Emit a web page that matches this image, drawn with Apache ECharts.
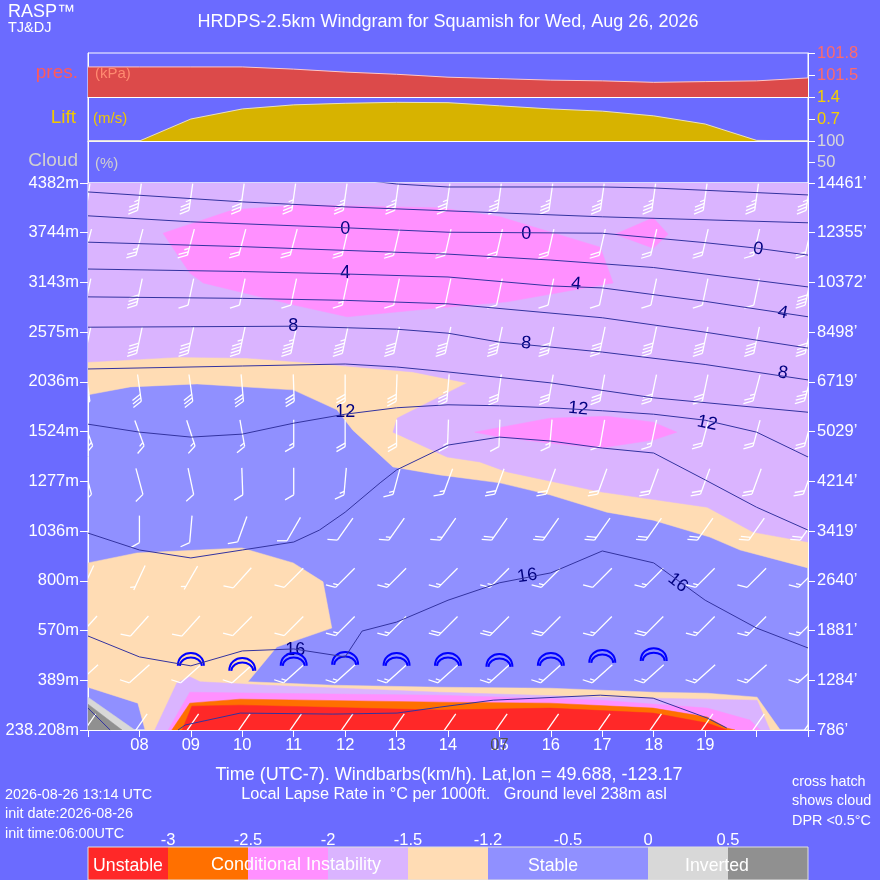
<!DOCTYPE html>
<html><head><meta charset="utf-8">
<script src="https://cdn.jsdelivr.net/npm/echarts@6/dist/echarts.min.js"></script>
<style>html,body{margin:0;padding:0;background:#6b6bff;}#c{width:880px;height:880px;}</style>
</head><body><div id="c"></div><script>
// ---------- DATA ----------
const hours = [7,8,9,10,11,12,13,14,15,16,17,18,19,20,21];
const hourLabels = {8:'08',9:'09',10:'10',11:'11',12:'12',13:'13',14:'14',15:'15',16:'16',17:'17',18:'18',19:'19'};
const heightLabels = ['238.208m','389m','570m','800m','1036m','1277m','1524m','2036m','2575m','3143m','3744m','4382m'];
const feetLabels = ['786\u2019','1284\u2019','1881\u2019','2640\u2019','3419\u2019','4214\u2019','5029\u2019','6719\u2019','8498\u2019','10372\u2019','12355\u2019','14461\u2019'];
const presValues = [101.61,101.61,101.61,101.61,101.58,101.54,101.51,101.47,101.45,101.43,101.42,101.40,101.41,101.42,101.46];
const liftValues = [0,0,0.70,1.02,1.15,1.20,1.23,1.22,1.12,1.02,0.95,0.80,0.54,0.02,0];

// lapse-rate regions: [hour, level]
const peachUpper = [[7,11],[21,11],[21,3.26],[19.68,3.62],[19.09,3.88],[17.99,4.22],[17.09,4.38],[15.98,4.73],[15.01,4.97],[13.84,5.13],[12.93,5.29],[12.15,6.03],[11.84,6.44],[10.99,6.84],[9.12,6.96],[7.82,6.90],[7,6.74]];
const lavUpper = [[7,11],[21,11],[21,3.78],[19.93,3.98],[19.04,4.48],[16.96,4.79],[15.15,5.19],[14.62,5.39],[13.98,5.49],[12.93,5.99],[13.01,6.27],[14.37,6.98],[13.32,7.20],[11.37,7.38],[10.09,7.48],[8.79,7.50],[7,7.40]];
const pinkUpper = [[8.46,9.99],[9.82,10.46],[11.12,10.56],[13.84,10.50],[15.01,10.32],[16.96,9.71],[17.21,8.99],[15.15,8.61],[13.84,8.49],[12.04,8.31],[10.99,8.55],[9.24,8.99],[8.98,9.19]];
const pinkDiamond = [[17.25,9.97],[17.99,10.30],[18.28,9.97],[17.99,9.69]];
const pinkMid = [[14.52,5.99],[15.98,6.27],[17.09,6.31],[17.99,6.19],[18.45,5.99],[17.99,5.83],[16.96,5.67],[15.98,5.77],[15.01,5.89]];
const peachLower = [[7,3.36],[7.95,3.56],[9.99,3.66],[10.99,3.36],[11.57,2.98],[11.74,2.05],[10.67,1.67],[10.11,0.97],[11.76,0.90],[13.84,0.86],[15.98,0.84],[17.99,0.76],[19.04,0.74],[20.01,0.66],[20.46,0],[8.11,0],[7.97,0.54],[7,0.86]];
const lavDome = [[8.30,0],[8.73,0.95],[8.98,1.07],[9.18,0.97],[10.48,0.90],[13.84,0.76],[16.96,0.66],[19.04,0.62],[20.01,0.60],[20.26,0]];
const pinkDome = [[8.56,0],[8.98,0.76],[10.48,0.74],[13.84,0.70],[16.96,0.60],[19.04,0.44],[19.87,0.20],[20.07,0]];
const orangeDome = [[8.63,0],[8.98,0.54],[9.96,0.62],[13.84,0.56],[15.98,0.54],[17.99,0.44],[19.04,0.26],[19.42,0.04],[19.58,0]];
const redDome = [[8.83,0],[9.02,0.48],[9.96,0.50],[13.84,0.40],[15.98,0.44],[17.99,0.34],[19.04,0.14],[19.42,0]];
const greyLight = [[7,0.66],[7.91,0],[7,0]];
const greyDark = [[7,0.52],[7.66,0],[7,0]];

// isotherms (deg C): [hour, level]
const isoM4 = [[12,11.1],[13,10.98],[14,10.92],[17,10.92],[18,10.90],[21,10.76]];
const isoM2 = [[7,10.82],[10,10.62],[12,10.52],[14,10.44],[17,10.32],[21,10.20]];
const iso0 = [[7,10.34],[9,10.22],[12,10.10],[14,10.01],[17,9.99],[19,9.80],[20,9.69],[21,9.55]];
const iso2 = [[7,9.81],[10,9.72],[14,9.57],[16,9.45],[18,9.30],[21,8.91]];
const iso4 = [[7,9.27],[10,9.22],[12,9.17],[14,9.11],[16,8.93],[17,8.89],[19,8.62],[21,8.31]];
const iso6 = [[7,8.71],[10,8.68],[12,8.64],[14,8.57],[17,8.29],[19,8.00],[21,7.68]];
const iso8 = [[7,8.10],[9,8.11],[11,8.12],[13,8.06],[14,7.98],[15,7.80],[17,7.60],[19,7.35],[21,7.04]];
const iso10 = [[7,7.26],[10,7.32],[12,7.36],[13,7.30],[14,7.20],[16,6.98],[18,6.68],[21,6.39]];
const iso12 = [[7,6.15],[8,5.99],[9,5.89],[10,5.95],[11,6.17],[12,6.35],[13,6.48],[14,6.54],[15,6.52],[16,6.48],[17,6.42],[18,6.35],[19,6.23],[20,5.99],[21,5.49]];
const iso14 = [[7,3.96],[8,3.62],[9,3.46],[10,3.62],[11,3.78],[11.5,4.02],[12,4.38],[12.68,4.97],[13,5.23],[14,5.73],[15,5.89],[16,5.81],[17,5.67],[18,5.57],[19,5.03],[20,4.48],[21,4.02]];
const iso16 = [[7,1.89],[8,1.47],[9,1.29],[10,1.59],[11,1.63],[12,1.47],[12.33,1.99],[13,2.17],[14,2.61],[15,2.96],[16,3.16],[17,3.60],[18,3.36],[19,2.61],[20,2.05],[21,1.65]];
const iso18 = [[8.75,0],[8.89,0.10],[9.96,0.34],[11.76,0.32],[13.01,0.34],[13.84,0.46],[14.88,0.60],[16.96,0.70],[17.99,0.64],[19.04,0.24],[19.42,0.04]];
const iso20 = [[7,0.44],[7.43,0]];

const contourLabelPos = [[12.0,10.08],[15.52,9.98],[20.03,9.67],[12.0,9.19],[16.49,8.97],[20.51,8.39],[10.99,8.12],[15.52,7.78],[20.51,7.18],[12.0,6.39],[16.53,6.46],[19.04,6.17],[15.54,3.10],[18.47,2.96],[11.03,1.61]];
const contourLabelText = ['0','0','0','4','4','4','8','8','8','12','12','12','16','16','16'];
const contourLabelRot = [0,0,8,0,5,12,0,5,10,0,5,12,-8,38,0];

// wind barbs
const barbRowLevels = [0.1,1.13,2.09,3.06,4.04,5.0,5.97,6.88,7.84,8.81,9.81,10.72];
const barbDirs = [
 [215,215,215,215,215,215,215,215,215,215,215,215,215,215,215],
 [228,228,228,228,228,228,228,228,228,228,228,228,228,228,228],
 [222,222,222,225,225,225,225,225,225,225,225,225,225,225,225],
 [205,205,210,222,225,225,225,225,225,225,225,225,225,225,225],
 [180,180,185,200,210,215,215,215,215,215,215,215,215,215,215],
 [165,165,168,178,180,185,195,200,200,200,200,200,200,200,200],
 [160,160,162,170,180,180,180,182,182,185,190,192,195,195,195],
 [172,172,172,175,178,180,182,185,188,190,190,192,192,195,195],
 [192,192,192,192,192,192,192,192,192,192,192,192,192,192,192],
 [192,192,192,192,192,192,192,192,192,192,192,192,192,192,192],
 [195,195,195,195,195,193,193,193,193,193,193,193,193,193,193],
 [188,188,188,188,188,188,188,188,188,188,188,188,188,188,188]
];
const barbSpeeds = [
 [10,10,10,10,10,10,10,10,10,10,10,10,10,10,10],
 [10,10,10,10,15,15,15,15,15,15,15,15,15,15,15],
 [10,10,10,10,10,15,15,20,20,20,15,20,15,15,15],
 [5,5,5,10,10,15,15,15,15,15,10,15,15,10,15],
 [10,10,10,10,10,10,15,15,20,20,20,20,20,20,20],
 [10,10,10,10,10,15,15,15,20,20,20,20,20,20,20],
 [15,15,15,15,15,20,20,15,10,15,10,15,20,20,20],
 [30,30,30,30,30,30,30,35,30,30,30,30,30,25,35],
 [40,40,40,45,45,45,40,40,40,40,40,40,40,40,40],
 [20,40,10,10,10,15,10,10,10,10,10,10,10,10,40],
 [25,25,25,20,20,20,20,20,20,20,20,20,20,15,20],
 [35,35,35,35,35,35,35,35,35,35,35,35,35,35,35]
];
const gliderHours = [9,10,11,12,13,14,15,16,17,18];
const gliderLevels = [1.29,1.19,1.29,1.31,1.29,1.29,1.27,1.29,1.35,1.39];

const legendBreaks = ['-3','-2.5','-2','-1.5','-1.2','-0.5','0','0.5'];
const legendColors = ['#ff2828','#ff7000','#ff90ff','#dab4ff','#ffdcb4','#9090ff','#9090ff','#d8d8d8','#909090'];

// ---------- STYLE ----------
const C = {red:'#ff2828',orange:'#ff7000',pink:'#ff90ff',lav:'#dab4ff',peach:'#ffdcb4',blue:'#9090ff',lgrey:'#d8d8d8',dgrey:'#909090'};
const regions = [
 {pts:peachUpper,color:C.peach},{pts:lavUpper,color:C.lav},{pts:pinkUpper,color:C.pink},{pts:pinkDiamond,color:C.pink},{pts:pinkMid,color:C.pink},
 {pts:peachLower,color:C.peach},{pts:lavDome,color:C.lav},{pts:pinkDome,color:C.pink},{pts:orangeDome,color:C.orange},{pts:redDome,color:C.red},
 {pts:greyLight,color:C.lgrey},{pts:greyDark,color:C.dgrey}
];
const isotherms = [isoM4,isoM2,iso0,iso2,iso4,iso6,iso8,iso10,iso12,iso14,iso16,iso18,iso20];
const FONT = '"Liberation Sans", Arial, sans-serif';
const W = '#ffffff';
const AX = 16.5;

const barbData = [];
barbRowLevels.forEach((lv,r)=>hours.forEach((h,i)=>barbData.push([h,lv,barbDirs[r][i],barbSpeeds[r][i]])));

function lineX(gi,pos){return {type:'value',gridIndex:gi,position:pos,min:7,max:21,interval:1,axisLine:{show:true,lineStyle:{color:W,width:1}},axisTick:{show:false},axisLabel:{show:false},splitLine:{show:false}};}
function lineY(gi,pos){return {type:'value',gridIndex:gi,position:pos,min:0,max:1,axisLine:{show:true,lineStyle:{color:W,width:1}},axisTick:{show:false},axisLabel:{show:false},splitLine:{show:false}};}
function rightY(gi,min,max,iv,color,fmt){return {type:'value',gridIndex:gi,position:'right',min,max,interval:iv,
 axisLine:{show:true,lineStyle:{color:W,width:1}},axisTick:{show:true,length:7,lineStyle:{color:W}},
 axisLabel:{show:true,color,fontSize:AX,fontFamily:FONT,margin:9,formatter:fmt},splitLine:{show:false}};}

const gridBase = {left:88,right:72,show:true,borderColor:W,borderWidth:1,outerBoundsMode:'none'};
const option = {
 animation:false,
 backgroundColor:'#6b6bff',
 grid:[
  Object.assign({},gridBase,{top:53,height:44,backgroundColor:'transparent'}),
  Object.assign({},gridBase,{top:97,height:44,backgroundColor:'transparent'}),
  Object.assign({},gridBase,{top:141,height:42,backgroundColor:'transparent'}),
  Object.assign({},gridBase,{top:183,height:547,backgroundColor:C.blue})
 ],
 xAxis:[
  Object.assign(lineX(0,'top'),{axisTick:{show:true,length:9,lineStyle:{color:W}}}),
  lineX(0,'bottom'), lineX(1,'bottom'), lineX(2,'bottom'),
  Object.assign(lineX(3,'bottom'),{axisTick:{show:true,length:7,lineStyle:{color:W}},
   axisLabel:{show:true,color:W,fontSize:AX,fontFamily:FONT,margin:7,formatter:v=>hourLabels[v]||''}}),
  lineX(3,'top')
 ],
 yAxis:[
  rightY(0,101.2,101.8,0.3,'#ff6a6a',v=>Math.abs(v-101.2)<0.01?'':v.toFixed(1)),
  lineY(0,'left'),
  rightY(1,0,1.4,0.7,'#f5d000',v=>v<0.01?'':v.toFixed(1)),
  lineY(1,'left'),
  rightY(2,0,100,50,'#d8d8d8',v=>v<1?'':String(v)),
  lineY(2,'left'),
  {type:'value',gridIndex:3,position:'left',min:0,max:11,interval:1,axisLine:{show:true,lineStyle:{color:W}},
   axisTick:{show:true,length:8,lineStyle:{color:W}},axisLabel:{color:W,fontSize:AX,fontFamily:FONT,margin:9,formatter:v=>heightLabels[Math.round(v)]},splitLine:{show:false}},
  {type:'value',gridIndex:3,position:'right',min:0,max:11,interval:1,axisLine:{show:true,lineStyle:{color:W}},
   axisTick:{show:true,length:7,lineStyle:{color:W}},axisLabel:{color:W,fontSize:AX,fontFamily:FONT,margin:9,formatter:v=>feetLabels[Math.round(v)]},splitLine:{show:false}}
 ],
 series:[]
};

option.series.push({type:'line',xAxisIndex:0,yAxisIndex:0,data:hours.map((h,i)=>[h,presValues[i]]),showSymbol:false,silent:true,
 lineStyle:{color:'#ffc8c8',width:1},areaStyle:{color:'#dc4a4a',opacity:1,origin:'start'}});
option.series.push({type:'line',xAxisIndex:2,yAxisIndex:2,data:hours.map((h,i)=>[h,liftValues[i]]),showSymbol:false,silent:true,
 lineStyle:{color:'#e8e0c0',width:1},areaStyle:{color:'#d7b300',opacity:1,origin:'start'}});

option.series.push({type:'custom',xAxisIndex:4,yAxisIndex:6,silent:true,clip:true,
 data:regions.map((r,i)=>[r.pts[0][0],r.pts[0][1],i]),
 renderItem:function(params,api){
  const r = regions[params.dataIndex];
  return {type:'polygon',shape:{points:r.pts.map(p=>api.coord(p))},style:{fill:r.color,stroke:r.color,lineWidth:0.5}};
 }});

isotherms.forEach(d=>option.series.push({type:'line',xAxisIndex:4,yAxisIndex:6,data:d,showSymbol:false,silent:true,clip:true,
 lineStyle:{color:'#3333a0',width:1}}));

option.series.push({type:'custom',xAxisIndex:4,yAxisIndex:6,silent:true,clip:true,data:barbData,
 renderItem:function(params,api){
  const c = api.coord([api.value(0),api.value(1)]);
  const th = api.value(2)*Math.PI/180, spd = api.value(3);
  const dx = Math.sin(th), dy = -Math.cos(th), L = 27;
  const x1 = c[0]+dx*L/2, y1 = c[1]+dy*L/2;
  const ch = [{type:'line',shape:{x1:c[0]-dx*L/2,y1:c[1]-dy*L/2,x2:x1,y2:y1},style:{stroke:W,lineWidth:1.3}}];
  const rx = -dy, ry = dx, a = 60*Math.PI/180;
  const fx = Math.cos(a)*dx+Math.sin(a)*rx, fy = Math.cos(a)*dy+Math.sin(a)*ry;
  const n = Math.round(spd/5), full = Math.floor(n/2), half = n%2;
  let pos = 0;
  for(let k=0;k<full;k++){const bx=x1-dx*pos,by=y1-dy*pos;ch.push({type:'line',shape:{x1:bx,y1:by,x2:bx+fx*10,y2:by+fy*10},style:{stroke:W,lineWidth:1.3}});pos+=3.5;}
  if(half){if(full===0)pos=3.5;const bx=x1-dx*pos,by=y1-dy*pos;ch.push({type:'line',shape:{x1:bx,y1:by,x2:bx+fx*5,y2:by+fy*5},style:{stroke:W,lineWidth:1.3}});}
  const cs = params.coordSys;
  return {type:'group',children:ch,clipPath:{type:'rect',shape:{x:cs.x,y:cs.y,width:cs.width,height:cs.height}}};
 }});

option.series.push({type:'custom',xAxisIndex:4,yAxisIndex:6,silent:true,data:contourLabelPos,
 renderItem:function(params,api){
  const c = api.coord([api.value(0),api.value(1)]);
  return {type:'text',x:c[0],y:c[1],rotation:-contourLabelRot[params.dataIndex]*Math.PI/180,
   style:{text:contourLabelText[params.dataIndex],fill:'#000080',fontSize:18,fontFamily:FONT,align:'center',verticalAlign:'middle'}};
 }});

option.series.push({type:'custom',xAxisIndex:4,yAxisIndex:6,silent:true,data:gliderHours.map((h,i)=>[h,gliderLevels[i]]),
 renderItem:function(params,api){
  const c = api.coord([api.value(0),api.value(1)]);
  const cx=c[0], by=c[1], st={stroke:'#0000ff',lineWidth:2,fill:null};
  return {type:'group',children:[
   {type:'bezierCurve',shape:{x1:cx-13,y1:by,cpx1:cx-13,cpy1:by-17,cpx2:cx+13,cpy2:by-17,x2:cx+13,y2:by},style:st},
   {type:'bezierCurve',shape:{x1:cx-11,y1:by,cpx1:cx-10,cpy1:by-11,cpx2:cx+10,cpy2:by-11,x2:cx+11,y2:by},style:st}
  ]};
 }});

// ---------- TEXT & LEGEND ----------
function txt(text,x,y,size,fill,align,extra){return Object.assign({type:'text',x,y,silent:true,z:100,style:{text,fill:fill||W,fontSize:size,fontFamily:FONT,align:align||'left',verticalAlign:'middle'}},extra||{});}
const g = [
 txt('RASP\u2122',8,12,18,W),
 txt('TJ&DJ',8,28,14.5,W),
 txt('HRDPS-2.5km Windgram for Squamish for Wed, Aug 26, 2026',448,22,18,W,'center'),
 txt('pres.',78,73,19,'#ff5a5a','right'),
 txt('(kPa)',95,74,15,'#ff8a70'),
 txt('Lift',76,118,19,'#f0c800','right'),
 txt('(m/s)',93,119,15,'#f0c800'),
 txt('Cloud',78,161,19,'#d0d0d0','right'),
 txt('(%)',95,164,15,'#d0d0d0'),
 txt('Time (UTC-7). Windbarbs(km/h). Lat,lon = 49.688, -123.17',449,775,18,W,'center'),
 txt('Local Lapse Rate in \u00b0C per 1000ft.   Ground level 238m asl',454,795,16.3,W,'center'),
 txt('2026-08-26 13:14 UTC',5,795,14.4,W),
 txt('init date:2026-08-26',5,814,14.4,W),
 txt('init time:06:00UTC',5,834,14.4,W),
 txt('cross hatch',792,782,14.4,W),
 txt('shows cloud',792,801,14.4,W),
 txt('DPR <0.5\u00b0C',792,821,14.4,W)
];
legendColors.forEach((col,i)=>g.push({type:'rect',silent:true,shape:{x:88+i*80,y:847,width:80,height:33},style:{fill:col}}));
g.push({type:'rect',silent:true,shape:{x:88,y:847,width:720,height:33},style:{fill:null,stroke:'#e0e0e0',lineWidth:1}});
legendBreaks.forEach((t,i)=>g.push(txt(t,168+i*80,840,16.5,W,'center')));
g.push(txt('Unstable',128,866,17.7,W,'center'));
g.push(txt('Conditional Instability',296,865,18,W,'center'));
g.push(txt('Stable',553,866,17.7,W,'center'));
g.push(txt('Inverted',717,866,17.7,W,'center'));
option.graphic = g;

const chart = echarts.init(document.getElementById('c'));
chart.setOption(option);
const p15 = chart.convertToPixel({xAxisIndex:4},15);
chart.setOption({graphic: g.concat([txt('07',p15,745,AX,'#505050','center')])});
</script></body></html>
